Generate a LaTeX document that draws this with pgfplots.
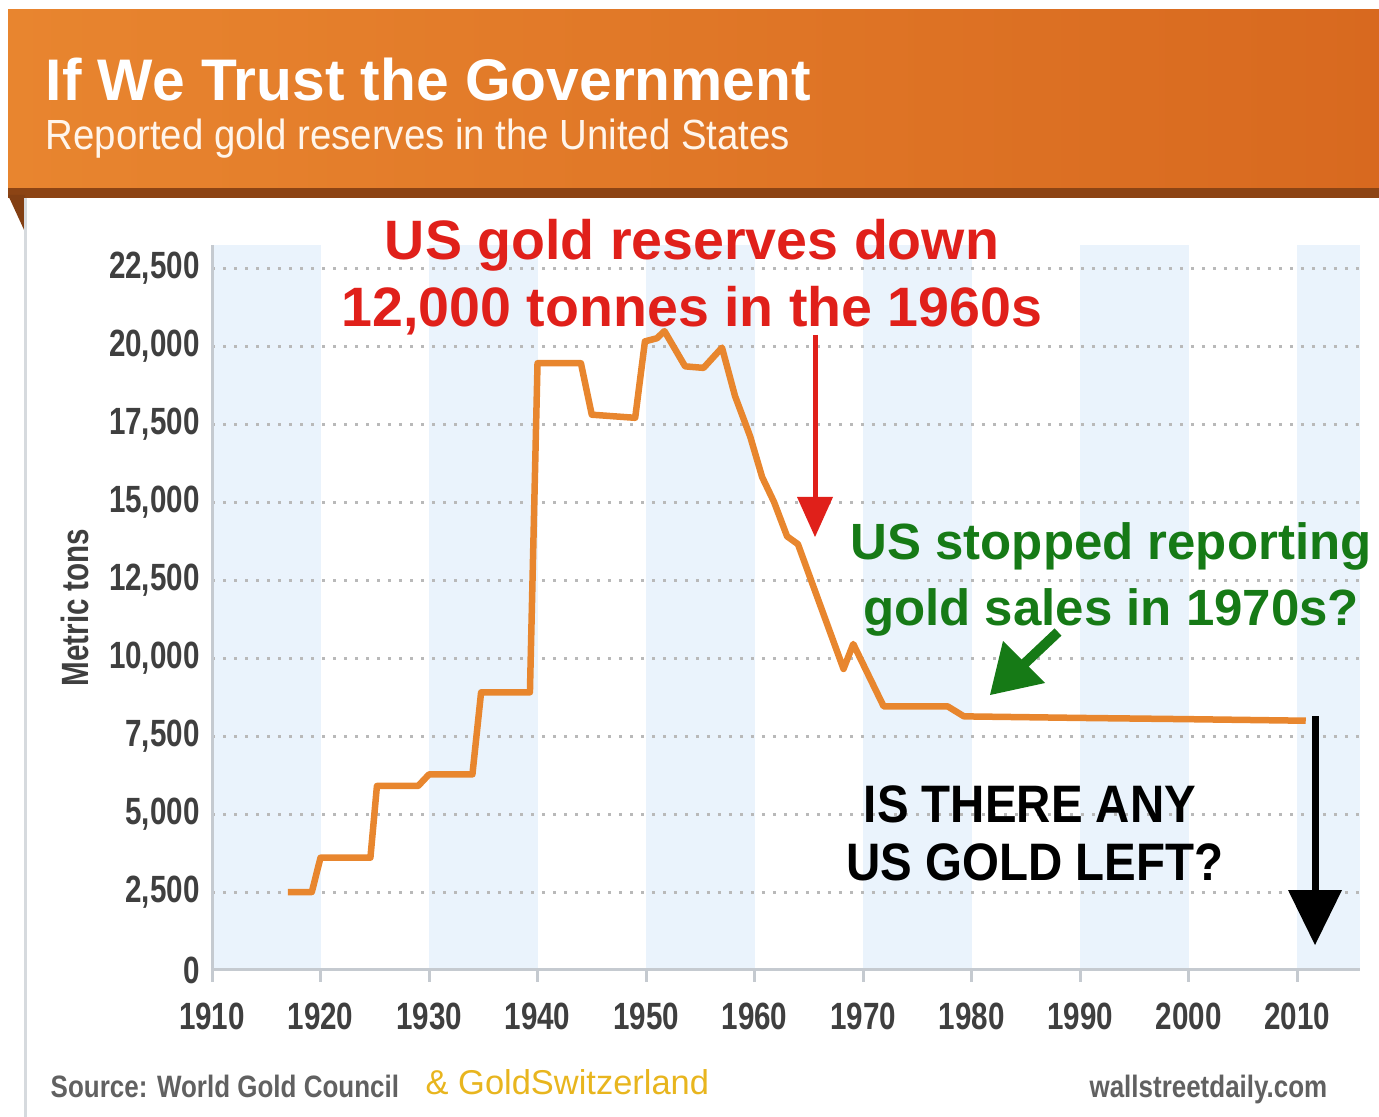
\documentclass[border=0pt]{standalone}
\usepackage{fontspec}
\usepackage{pgfplots}
\pgfplotsset{compat=1.18}
\setmainfont{Liberation Sans}
\newfontfamily\narrowfont[FakeStretch=0.91]{Liberation Sans}
\newfontfamily\tickfont[FakeStretch=0.78]{Liberation Sans}
\newfontfamily\footfont[FakeStretch=0.84]{Liberation Sans}
\newfontfamily\condfont[FakeStretch=0.9]{Liberation Sans}

\definecolor{bannerL}{HTML}{E8852F}
\definecolor{bannerR}{HTML}{D8691F}
\definecolor{band}{HTML}{EAF3FC}
\definecolor{gold}{HTML}{E8862E}
\definecolor{redann}{HTML}{E0201A}
\definecolor{greenann}{HTML}{167A16}
\definecolor{yellowsrc}{HTML}{E8B51E}
\definecolor{ticktxt}{HTML}{3F3F3F}
\definecolor{axisgray}{HTML}{C5CAD0}

\begin{document}
\begin{tikzpicture}
\begin{scope}[x=0.1mm,y=-0.1mm]
\useasboundingbox (0,0) rectangle (1379,1117);

% header banner
\shade[left color=bannerL, right color=bannerR] (8,10) rectangle (1379,190);
\fill[color=black!35!bannerR] (8,188) rectangle (1379,198);
\fill[color=black!40!bannerR] (8,195) -- (25,195) -- (25,232) -- cycle;
\draw[axisgray!70, line width=0.3mm] (25,198) -- (25,1117);
\node[anchor=base west, text=white, inner sep=0pt,
  font=\bfseries\fontsize{16.7}{20}\selectfont] at (45,101) {If We Trust the Government};
\node[anchor=base west, text=white!92!orange, inner sep=0pt,
  font=\narrowfont\fontsize{12}{14}\selectfont] at (45,150) {Reported gold reserves in the United States};
\end{scope}

\begin{axis}[
  at={(21.2mm,-97.0mm)}, anchor=south west,
  scale only axis, width=114.8mm, height=72.5mm,
  set layers,
  xmin=1910, xmax=2015.8, ymin=0, ymax=23240,
  xtick={1910,1920,...,2010},
  ytick={0,2500,...,22500},
  scaled x ticks=false, scaled y ticks=false,
  axis x line*=bottom, axis y line*=left,
  axis line style={axisgray, line width=0.3mm, -},
  x tick style={axisgray, line width=0.3mm},
  tick align=outside, major tick length=1.2mm,
  y tick style={draw=none},
  ymajorgrids,
  grid style={gray!55, line width=0.3mm, dash pattern=on 0.3mm off 0.8mm},
  /pgf/number format/assume math mode=true,
  /pgf/number format/fixed, /pgf/number format/precision=0,
  xticklabel style={font=\tickfont\bfseries\fontsize{10.8}{12}\selectfont, text=ticktxt,
    /pgf/number format/set thousands separator={}},
  yticklabel style={font=\tickfont\bfseries\fontsize{10.8}{12}\selectfont, text=ticktxt,
    /pgf/number format/set thousands separator={,}},
  xticklabel shift=0.9mm, yticklabel shift=-1.2mm,
  ylabel={Metric tons},
  every axis y label/.style={at={(axis description cs:-0.119,0.5)}, rotate=90, anchor=center,
    font=\tickfont\bfseries\fontsize{10.8}{12}\selectfont, text=ticktxt},
]
% alternating decade bands
\addplot[fill=band, draw=none, on layer=axis background] coordinates {(1910,23240) (1920,23240)} \closedcycle;
\addplot[fill=band, draw=none, on layer=axis background] coordinates {(1930,23240) (1940,23240)} \closedcycle;
\addplot[fill=band, draw=none, on layer=axis background] coordinates {(1950,23240) (1960,23240)} \closedcycle;
\addplot[fill=band, draw=none, on layer=axis background] coordinates {(1970,23240) (1980,23240)} \closedcycle;
\addplot[fill=band, draw=none, on layer=axis background] coordinates {(1990,23240) (2000,23240)} \closedcycle;
\addplot[fill=band, draw=none, on layer=axis background] coordinates {(2010,23240) (2015.8,23240)} \closedcycle;

% reported US gold reserves
\addplot[gold, line width=0.65mm, line join=round] coordinates {
(1917,2500) (1919.2,2500) (1920,3600) (1924.6,3600) (1925.2,5900) (1929,5900)
(1930,6270) (1934,6270) (1934.8,8900) (1939.3,8900) (1940,19450) (1944,19450)
(1945,17800) (1949,17700) (1949.9,20150) (1951,20250) (1951.7,20480)
(1953.6,19350) (1955.3,19300) (1957,19950) (1958.2,18400) (1959.6,17100)
(1960.7,15800) (1961.8,15000) (1963,13900) (1964,13650) (1968.2,9650)
(1969.1,10450) (1971.9,8450) (1977.8,8450) (1979.3,8130) (1990,8080)
(2000,8040) (2010.8,7990)};
\end{axis}

\begin{scope}[x=0.1mm,y=-0.1mm]
% red annotation
\node[anchor=base, text=redann, inner sep=0pt, font=\bfseries\fontsize{15.8}{18}\selectfont]
  at (692,260) {US gold reserves down};
\node[anchor=base, text=redann, inner sep=0pt, font=\bfseries\fontsize{15.8}{18}\selectfont]
  at (692,327) {12,000 tonnes in the 1960s};
\draw[redann, line width=0.5mm] (815,335) -- (815,500);
\fill[redann] (797,497) -- (833,497) -- (815,537) -- cycle;

% green annotation
\node[anchor=base, text=greenann, inner sep=0pt, font=\bfseries\fontsize{14.5}{17}\selectfont]
  at (1111,560) {US stopped reporting};
\node[anchor=base, text=greenann, inner sep=0pt, font=\bfseries\fontsize{14.5}{17}\selectfont]
  at (1111,625) {gold sales in 1970s?};
\draw[greenann, line width=1.0mm] (1058,632) -- (1022,666);
\fill[greenann] (1003,641) -- (1045,683) -- (990,695) -- cycle;

% black annotation
\node[anchor=base, text=black, inner sep=0pt, font=\condfont\bfseries\fontsize{15}{17}\selectfont]
  at (1030,822) {IS THERE ANY};
\node[anchor=base, text=black, inner sep=0pt, font=\condfont\bfseries\fontsize{15}{17}\selectfont]
  at (1035,880) {US GOLD LEFT?};
\draw[black, line width=0.7mm] (1315,716) -- (1315,895);
\fill[black] (1288,890) -- (1342,890) -- (1315,945) -- cycle;

% footer
\node[anchor=base west, text=black!62, inner sep=0pt, font=\footfont\bfseries\fontsize{8.8}{10}\selectfont]
  at (50,1097) {Source: World Gold Council};
\node[anchor=base west, text=yellowsrc, inner sep=0pt, font=\fontsize{9.8}{12}\selectfont]
  at (425,1094) {\& GoldSwitzerland};
\node[anchor=base east, text=black!62, inner sep=0pt, font=\footfont\bfseries\fontsize{8.8}{10}\selectfont]
  at (1328,1097) {wallstreetdaily.com};
\end{scope}
\end{tikzpicture}
\end{document}
